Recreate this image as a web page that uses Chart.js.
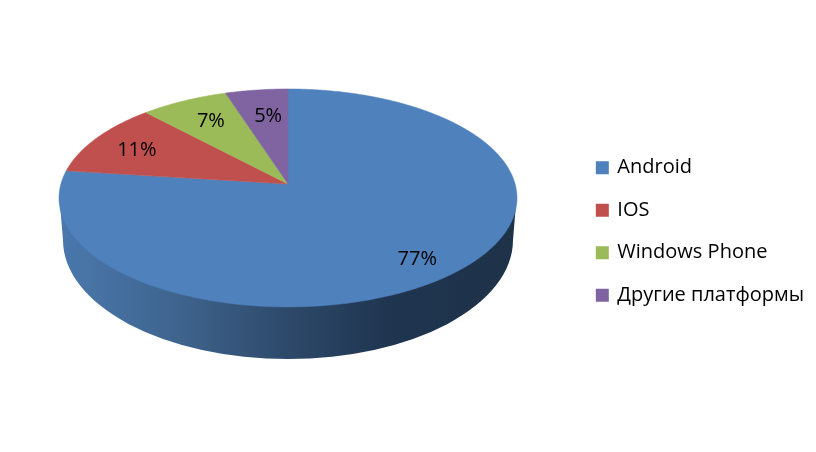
<!DOCTYPE html>
<html>
<head>
<meta charset="utf-8">
<title>Платформы</title>
<script src="https://cdn.jsdelivr.net/npm/chart.js@4"></script>
<style>
  html, body { margin: 0; padding: 0; background: #fff; }
  #wrap { width: 816px; height: 452px; }
</style>
</head>
<body>
<div id="wrap"><canvas id="chart1" width="816" height="452"></canvas></div>
<script>
const categories = ['Android', 'IOS', 'Windows Phone', 'Другие платформы'];
const shares = [77, 11, 7, 5];
const sliceColors = ['#4f81bd', '#c0504d', '#9bbb59', '#8064a2'];
// how far out along the slice each percent label sits (0 = apex, 1 = rim)
const labelRadius = [0.84, 0.77, 0.74, 0.70];
const labelNudgeX = [-8, -2, 2, 3];
const labelNudgeY = [2, 2, 0, 0];

// the pie is tilted with perspective, so the apex is not the middle of the ellipse
const apexX = 288, apexY = 184;
const scaleX = 227.1, scaleY = 107.2, tilt = -0.128;

function project(angle, r) {
    const u = Math.cos(angle) * r;
    const v = Math.sin(angle) * r;
    const w = 1 + tilt * v;
    return { x: apexX + u * scaleX / w, y: apexY + v * scaleY / w };
}

const pie3d = {
    id: 'pie3d',
    beforeDatasetsDraw(chart) {
        const ctx = chart.ctx;
        const arcs = chart.getDatasetMeta(0).data;

        // side wall
        const grad = ctx.createLinearGradient(60, 0, 516, 0);
        grad.addColorStop(0, '#4a78ad');
        grad.addColorStop(0.25, '#3f658f');
        grad.addColorStop(0.52, '#2c4767');
        grad.addColorStop(0.72, '#1f3550');
        grad.addColorStop(1, '#1e3248');
        ctx.save();
        ctx.fillStyle = grad;
        ctx.beginPath();
        ctx.moveTo(59.5, 198);
        ctx.lineTo(63, 240);
        ctx.ellipse(288, 240, 225, 119, 0, Math.PI, 0, true);
        ctx.lineTo(516.5, 198);
        ctx.closePath();
        ctx.fill();

        // top face, one wedge per arc of the library
        arcs.forEach(function (arc, i) {
            const color = sliceColors[i];
            ctx.fillStyle = color;
            ctx.strokeStyle = color;
            ctx.lineWidth = 0.5;
            ctx.beginPath();
            ctx.moveTo(apexX, apexY);
            const steps = Math.ceil((arc.endAngle - arc.startAngle) / 0.01);
            for (let s = 0; s <= steps; s++) {
                const p = project(arc.startAngle + (arc.endAngle - arc.startAngle) * s / steps, 1);
                ctx.lineTo(p.x, p.y);
            }
            ctx.closePath();
            ctx.fill();
            ctx.stroke();
        });

        // percent labels
        ctx.fillStyle = '#000';
        ctx.font = '20px "Open Sans"';
        ctx.textAlign = 'center';
        ctx.textBaseline = 'middle';
        arcs.forEach(function (arc, i) {
            const p = project((arc.startAngle + arc.endAngle) / 2, labelRadius[i]);
            ctx.fillText(shares[i] + '%', p.x + labelNudgeX[i], p.y + labelNudgeY[i]);
        });
        ctx.restore();
        return false;
    }
};

new Chart(document.getElementById('chart1'), {
    type: 'pie',
    data: {
        labels: categories,
        datasets: [{
            data: shares,
            backgroundColor: sliceColors,
            // only the legend swatches show this border: 10px box + 3px stroke = 13px
            borderColor: sliceColors,
            borderWidth: 3
        }]
    },
    options: {
        responsive: false,
        animation: false,
        layout: { padding: { top: 11, right: 2 } },
        plugins: {
            tooltip: { enabled: false },
            legend: {
                position: 'right',
                labels: {
                    color: '#000',
                    font: { family: '"Open Sans"', size: 20 },
                    boxWidth: 10,
                    boxHeight: 10,
                    padding: 22.5
                }
            }
        }
    },
    plugins: [pie3d]
});
</script>
</body>
</html>
